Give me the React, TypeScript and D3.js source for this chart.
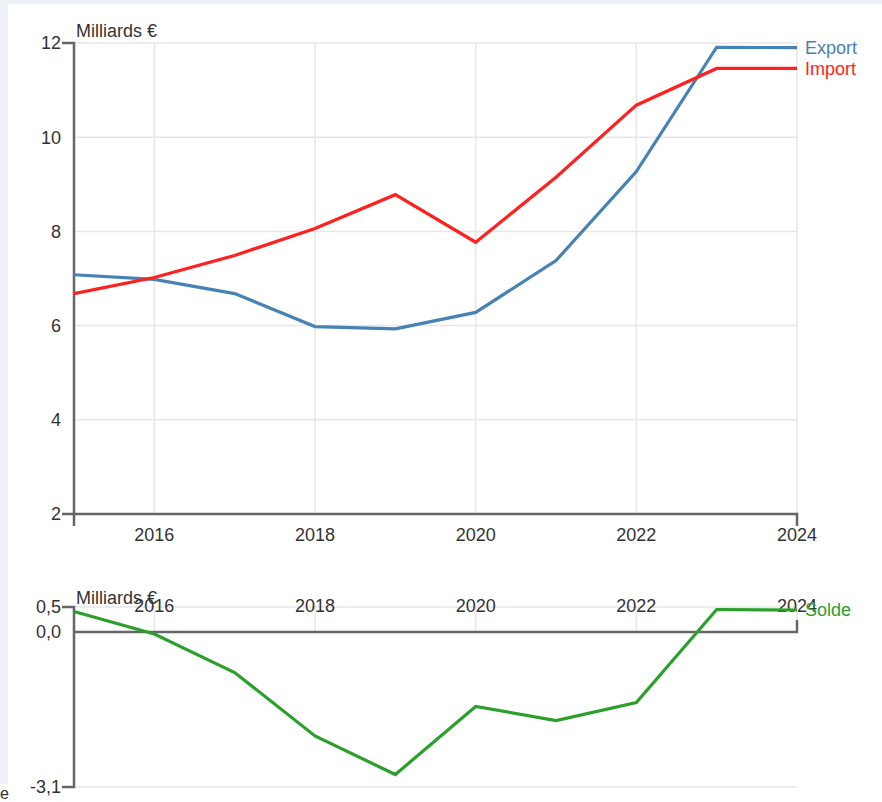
import React from "react";
import * as d3 from "d3";

const years = [2015, 2016, 2017, 2018, 2019, 2020, 2021, 2022, 2023, 2024];
const exportVals = [7.08, 6.98, 6.68, 5.98, 5.93, 6.28, 7.38, 9.27, 11.91, 11.9];
const importVals = [6.68, 7.02, 7.49, 8.06, 8.78, 7.77, 9.15, 10.68, 11.46, 11.46];
const soldeVals = [0.41, -0.04, -0.81, -2.08, -2.85, -1.49, -1.77, -1.41, 0.45, 0.44];
const xTickYears = [2016, 2018, 2020, 2022, 2024];
const topYTicks = [2, 4, 6, 8, 10, 12];
const botYTicks = [0.5, 0, -3.1];
const unitLabel = "Milliards €";

const W = 882;
const H = 802;
const FONT = "'Liberation Sans', Arial, sans-serif";
const FS = 18;
const AXIS = "#666";
const GRID = "#e6e6e6";
const TEXT = "#333";

const fr = d3.formatLocale({ decimal: ",", thousands: " ", grouping: [3], currency: ["", " €"], minus: "-" });
const fmt1 = fr.format(".1f");

export default function App() {
  const x = d3.scaleLinear().domain([2015, 2024]).range([74, 797]);
  const yT = d3.scaleLinear().domain([2, 12]).range([514, 43]);
  const yB = d3.scaleLinear().domain([-3.1, 0.5]).range([787, 607]);

  const lineT = (vals: number[]) =>
    d3.line<number>().x((_, i) => x(years[i])).y((v) => yT(v))(vals) || "";
  const lineB = d3.line<number>().x((_, i) => x(years[i])).y((v) => yB(v))(soldeVals) || "";

  const x0 = x.range()[0];
  const x1 = x.range()[1];
  const outer = 12;

  return (
    <>
      <style>{`body{margin:0}`}</style>
      <svg width={W} height={H} style={{ display: "block", fontFamily: FONT }}>
        <rect x={0} y={0} width={W} height={H} fill="#eef2f7" />
        <rect x={8} y={4} width={W - 8} height={H - 4} fill="#ffffff" />
        <rect x={0} y={784} width={8} height={18} fill="#ffffff" />
        <text x={0} y={799} fontSize={16} fill={TEXT}>e</text>

        {/* ---------- Top chart ---------- */}
        {topYTicks.filter((t) => t !== 2).map((t) => (
          <line key={"hg" + t} x1={x0} x2={x1} y1={yT(t)} y2={yT(t)} stroke={GRID} strokeWidth={1.5} />
        ))}
        {xTickYears.map((t) => (
          <line key={"vg" + t} x1={x(t)} x2={x(t)} y1={yT(12)} y2={yT(2)} stroke={GRID} strokeWidth={1.5} />
        ))}
        <path
          d={`M${x0 - outer},${yT(12)}H${x0}V${yT(2)}`}
          fill="none"
          stroke={AXIS}
          strokeWidth={2.5}
        />
        <line x1={x0 - outer} x2={x0} y1={yT(2)} y2={yT(2)} stroke={AXIS} strokeWidth={2.5} />
        {topYTicks.map((t) => (
          <text key={"yl" + t} x={x0 - 13} y={yT(t)} dy="0.35em" textAnchor="end" fontSize={FS} fill={TEXT}>
            {t}
          </text>
        ))}
        <path
          d={`M${x0},${yT(2) + outer}V${yT(2)}H${x1}V${yT(2) + outer}`}
          fill="none"
          stroke={AXIS}
          strokeWidth={2.5}
        />
        {xTickYears.map((t) => (
          <text key={"xl" + t} x={x(t)} y={yT(2) + 14} dy="0.71em" textAnchor="middle" fontSize={FS} fill={TEXT}>
            {t}
          </text>
        ))}
        <text x={x0 + 2} y={yT(12) - 6} fontSize={FS} fill={TEXT}>{unitLabel}</text>
        <path d={lineT(exportVals)} fill="none" stroke="steelblue" strokeWidth={3.2} />
        <path d={lineT(importVals)} fill="none" stroke="#ff2020" strokeWidth={3.2} />
        <text x={x1 + 8} y={yT(exportVals[exportVals.length - 1])} dy="0.35em" fontSize={FS} fill="steelblue">Export</text>
        <text x={x1 + 8} y={yT(importVals[importVals.length - 1])} dy="0.35em" fontSize={FS} fill="#ff2020">Import</text>

        {/* ---------- Bottom chart ---------- */}
        {[0.5, -3.1].map((t) => (
          <line key={"bhg" + t} x1={x0} x2={x1} y1={yB(t)} y2={yB(t)} stroke={GRID} strokeWidth={1.5} />
        ))}
        {xTickYears.map((t) => (
          <line key={"bvg" + t} x1={x(t)} x2={x(t)} y1={yB(0.5)} y2={yB(0)} stroke={GRID} strokeWidth={1.5} />
        ))}
        <path
          d={`M${x0 - outer},${yB(0.5)}H${x0}V${yB(-3.1)}H${x0 - outer}`}
          fill="none"
          stroke={AXIS}
          strokeWidth={2.5}
        />
        {botYTicks.map((t) => (
          <text key={"byl" + t} x={x0 - 13} y={yB(t)} dy="0.35em" textAnchor="end" fontSize={FS} fill={TEXT}>
            {fmt1(t)}
          </text>
        ))}
        <path
          d={`M${x0},${yB(0)}H${x1}V${yB(0) - outer}`}
          fill="none"
          stroke={AXIS}
          strokeWidth={2.5}
        />
        {xTickYears.map((t) => (
          <text key={"bxl" + t} x={x(t)} y={yB(0.5) - 1} dy="0.35em" textAnchor="middle" fontSize={FS} fill={TEXT}>
            {t}
          </text>
        ))}
        <text x={x0 + 2} y={yB(0.5) - 3} fontSize={FS} fill={TEXT}>{unitLabel}</text>
        <path d={lineB} fill="none" stroke="#2ca02c" strokeWidth={3.2} />
        <text x={x1 + 8} y={yB(soldeVals[soldeVals.length - 1])} dy="0.35em" fontSize={FS} fill="#2ca02c">Solde</text>
      </svg>
    </>
  );
}
